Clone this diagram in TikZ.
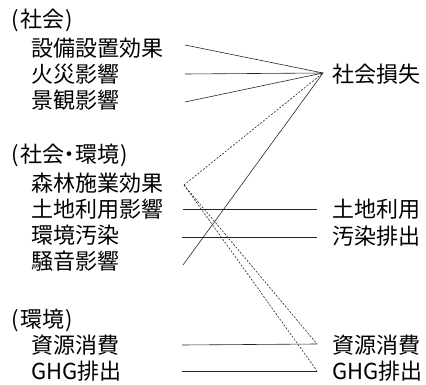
\documentclass[tikz,border=0pt]{standalone}
\usepackage{fontspec}
\setmainfont{Noto Sans CJK JP}
\newcommand{\lp}{(\kern1.5pt}
\newcommand{\rp}{\kern1.5pt)}
\begin{document}
\begin{tikzpicture}[x=1pt,y=-1pt,
  lbl/.style={anchor=west,inner sep=0pt,font=\fontsize{22}{25}\selectfont},
  conn/.style={draw=black!85,line width=0.6pt},
  dconn/.style={conn,dash pattern=on 2pt off 1.5pt}]
\useasboundingbox (0,0) rectangle (426,385);
% left labels
\node[lbl] (g1) at (11,20) {\lp 社会\rp};
\node[lbl] (a1) at (31,48) {設備設置効果};
\node[lbl] (a2) at (31,74) {火災影響};
\node[lbl] (a3) at (31,100) {景観影響};
\node[lbl] (g2) at (11,155) {\lp 社会\kern-0.25em・\kern-0.25em環境\rp};
\node[lbl] (b1) at (31,183) {森林施業効果};
\node[lbl] (b2) at (31,209) {土地利用影響};
\node[lbl] (b3) at (31,235) {環境汚染};
\node[lbl] (b4) at (31,261) {騒音影響};
\node[lbl] (g3) at (11,320) {\lp 環境\rp};
\node[lbl] (c1) at (31,345) {資源消費};
\node[lbl] (c2) at (31,371) {GHG排出};
% right labels
\node[lbl] (r1) at (332,74) {社会損失};
\node[lbl] (r2) at (332,209) {土地利用};
\node[lbl] (r3) at (332,236) {汚染排出};
\node[lbl] (r4) at (332,345) {資源消費};
\node[lbl] (r5) at (332,371) {GHG排出};
% connector ends
\coordinate (pa1) at (185,45);
\coordinate (pa2) at (185,74);
\coordinate (pa3) at (185,102);
\coordinate (pb1) at (184,185);
\coordinate (pb2) at (183,209);
\coordinate (pb3) at (182,237);
\coordinate (pb4) at (183,265);
\coordinate (pc1) at (182,345);
\coordinate (pc2) at (182,371);
\coordinate (hub) at (323,73);
\coordinate (qr2) at (317,209);
\coordinate (qr3) at (317,237);
\coordinate (qr4) at (317,344);
\coordinate (qr5) at (317,371);
% connectors
\draw[conn] (pa1) -- (hub);
\draw[conn] (pa2) -- (hub);
\draw[conn] (pa3) -- (hub);
\draw[conn] (pb4) -- (hub);
\draw[dconn] (pb1) -- (hub);
\draw[dconn] (pb1) -- (qr4);
\draw[dconn] (pb1) -- (qr5);
\draw[conn] (pb2) -- (qr2);
\draw[conn] (pb3) -- (qr3);
\draw[conn] (pc1) -- (qr4);
\draw[conn] (pc2) -- (qr5);
\end{tikzpicture}
\end{document}
